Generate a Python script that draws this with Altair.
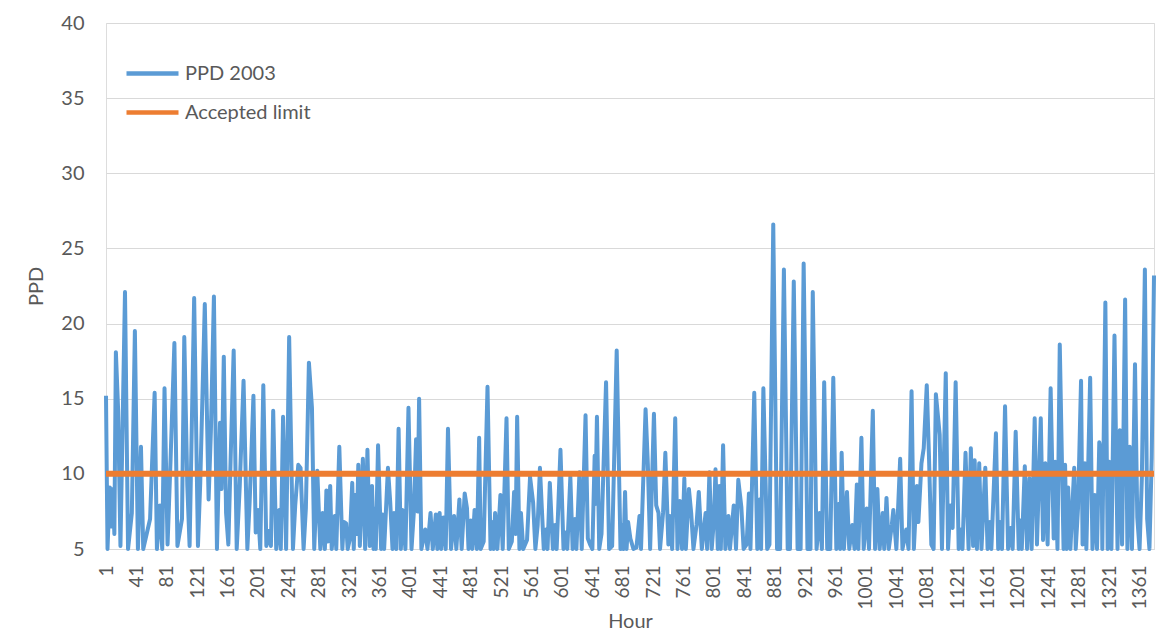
import altair as alt
import pandas as pd

# ---- data (vertices of the PPD trace) ----
hours = [1, 3, 6, 8, 10, 12, 14, 17, 20, 26, 30, 35, 39, 43, 47, 50, 59, 65, 68, 72, 75, 78, 82, 86, 91, 95,
         101, 104, 108, 111, 117, 122, 125, 131, 136, 139, 143, 147, 151, 153, 156, 159, 162, 165, 169, 173,
         177, 182, 187, 190, 195, 198, 201, 204, 208, 212, 215, 218, 221, 225, 229, 231, 234, 238, 242, 247,
         250, 254, 257, 261, 264, 268, 272, 275, 279, 283, 286, 289, 291, 293, 296, 298, 302, 304, 308,
         312, 314, 317, 319, 322, 325, 327, 329, 331, 333, 335, 339, 341, 342, 345, 348, 351, 353, 355, 356,
         359, 363, 365, 367, 372, 375, 378, 380, 383, 386, 389, 391, 395, 399, 403, 406, 409, 411, 413, 416,
         421, 424, 428, 431, 435, 437, 440, 442, 445, 448, 451, 455, 459, 462, 466,
         469, 473, 476, 478, 481, 483, 486, 489, 492, 494, 498, 503, 507, 510, 511, 513, 516, 520, 523, 528,
         531, 535, 538, 540, 542, 545, 547, 550, 555, 559, 563, 566, 569, 572, 577, 580, 582, 585, 589, 592,
         594, 599, 603, 606, 608, 612, 615, 618, 620, 624,
         627, 632, 635, 638, 641, 644, 645, 647, 650, 653, 659, 663, 667, 673, 678, 680, 682, 684, 686, 688,
         691, 695, 699, 703, 705, 711, 714, 717, 722, 725, 728, 730, 734, 737, 741, 743, 746, 750, 753, 756,
         759, 762, 764, 768, 771, 774, 778, 781,
         785, 790, 792, 795, 798, 801, 803, 806, 808, 810, 813, 816, 820, 822, 827, 830, 833, 837, 840, 844,
         847, 849, 854, 858, 861, 863, 866, 871, 874, 879, 884, 888, 893, 898, 901, 906, 911, 915, 919, 924,
         928, 931, 936, 940,
         943, 946, 950, 954, 958, 962, 965, 967, 969, 972, 976, 979, 983, 986, 989, 991, 995, 998, 1002, 1005,
         1010, 1013, 1016, 1019, 1023, 1025, 1028, 1031, 1035, 1037, 1041, 1046, 1049, 1054, 1057, 1061, 1064,
         1068, 1070, 1074, 1077, 1081, 1084, 1087, 1090, 1093, 1098,
         1101, 1106, 1109, 1112, 1115, 1119, 1123, 1126, 1128, 1132, 1136, 1139, 1142, 1144, 1147, 1150, 1153,
         1158, 1161, 1164, 1166, 1172, 1175, 1177, 1180, 1184, 1188, 1191, 1194, 1198, 1202, 1204, 1206, 1210,
         1213, 1216, 1219, 1223, 1226, 1231, 1234, 1237, 1240, 1244, 1248, 1250, 1253, 1256,
         1261, 1263, 1265, 1267, 1270, 1275, 1277, 1280, 1284, 1286, 1289, 1291, 1296, 1299, 1302, 1305, 1308,
         1311, 1312, 1316, 1319, 1321, 1324, 1328, 1332, 1335, 1338, 1342, 1345, 1348, 1351, 1355, 1358, 1361,
         1364, 1368, 1371, 1374, 1377, 1380]

ppd = [15.2, 5.0, 9.1, 6.5, 9.0, 6.0, 18.1, 14.2, 5.2, 22.1, 5.0, 7.4, 19.5, 5.0, 11.8, 5.0, 7.0, 15.4, 5.0,
       7.9, 5.0, 15.7, 5.3, 11.0, 18.7, 5.2, 7.0, 19.1, 9.2, 5.2, 21.7, 5.2, 9.4, 21.3, 8.3, 12.8, 21.8, 5.0,
       13.4, 9.0, 17.8, 7.4, 5.3, 11.0, 18.2, 5.0, 9.2, 16.2, 5.0, 8.1, 15.2, 6.1, 7.6, 5.0, 15.9, 5.2, 6.2,
       5.2, 14.2, 5.0, 7.6, 5.0, 13.8, 5.0, 19.1, 5.0, 7.9, 10.6, 10.4, 5.0, 7.7, 17.4, 14.4, 5.0, 10.2, 5.0,
       7.4, 5.0, 8.9, 5.5, 9.2, 5.0, 7.2, 5.0, 11.8,
       5.0, 6.8, 6.7, 5.0, 5.7, 9.4, 5.0, 8.6, 6.0, 10.6, 5.2, 11.0, 7.0, 5.0, 11.6, 5.2, 9.2, 5.0, 7.7, 5.0,
       11.9, 5.0, 7.3, 5.0, 10.4, 8.1, 5.0, 7.4, 5.0, 13.0, 5.0, 7.6, 5.0, 14.4, 5.0, 7.4, 12.3, 7.5, 15.0,
       5.0, 6.3, 5.0, 7.4, 5.0, 7.3, 5.0, 7.4, 5.0, 7.1, 5.0, 13.0, 5.0, 7.2, 5.0, 8.3,
       5.0, 8.7, 7.7, 5.0, 6.9, 5.0, 7.6, 5.0, 12.4, 5.0, 5.5, 15.8, 5.0, 6.8, 5.0, 7.4, 5.0, 8.6, 5.0, 13.7,
       5.0, 5.5, 8.8, 6.0, 13.8, 5.0, 7.4, 5.0, 5.6, 9.8, 8.1, 5.0, 6.6, 10.4, 5.0, 6.3, 5.0, 9.4, 5.0, 6.6,
       5.0, 11.6, 5.0, 6.1, 5.0, 9.8, 5.0, 7.0, 5.0, 10.1,
       5.0, 13.9, 5.7, 5.3, 5.0, 11.2, 8.0, 13.8, 5.0, 6.0, 16.1, 5.0, 5.2, 18.2, 5.0, 6.6, 5.0, 8.8, 5.0, 6.8,
       5.7, 5.0, 5.1, 7.2, 5.0, 14.3, 10.6, 5.0, 14.0, 7.9, 7.4, 5.0, 7.4, 11.4, 5.3, 7.2, 5.0, 13.7, 5.0, 8.2,
       5.0, 9.7, 5.0, 9.0, 7.4, 5.0, 6.6, 8.8,
       5.0, 7.4, 5.0, 10.1, 5.0, 7.0, 10.3, 5.0, 9.2, 5.0, 11.9, 5.0, 7.2, 5.0, 7.9, 5.0, 9.6, 7.8, 5.0, 5.3,
       8.7, 5.0, 15.4, 5.0, 8.3, 5.0, 15.7, 5.0, 5.3, 26.6, 5.0, 5.0, 23.6, 5.0, 5.0, 22.8, 5.0, 5.0, 24.0, 5.0,
       5.0, 22.1, 5.0, 7.4,
       5.0, 16.1, 5.0, 5.0, 16.4, 5.0, 8.0, 5.0, 11.4, 5.0, 8.8, 5.0, 6.6, 5.0, 9.3, 5.0, 12.4, 5.0, 7.7, 5.0,
       14.2, 5.0, 9.0, 5.0, 7.4, 5.0, 8.4, 5.0, 6.6, 7.6, 5.0, 11.0, 5.0, 6.3, 5.0, 15.5, 5.0,
       9.2, 6.8, 10.7, 11.7, 15.9, 11.0, 5.3, 5.0, 15.3, 12.6,
       5.0, 16.7, 5.0, 7.9, 6.4, 16.1, 5.0, 6.3, 5.0, 11.4, 5.0, 11.7, 5.2, 10.9, 5.0, 10.7, 5.0,
       10.4, 5.0, 6.8, 5.0, 12.7, 5.0, 6.8, 5.0, 14.5, 5.0, 6.4, 5.0, 12.8, 5.0, 6.9, 5.0, 10.5,
       5.0, 9.7, 5.0, 13.7, 5.3, 13.7, 5.6, 10.7, 5.3, 15.7, 5.7, 10.8, 5.0, 18.6,
       5.0, 10.6, 5.0, 9.1, 5.0, 10.4, 5.0, 7.7, 16.2, 5.3, 10.7, 5.0, 16.4, 5.0, 8.6, 5.0, 12.1,
       11.2, 5.0, 21.4, 5.0, 10.8, 5.0, 19.2, 5.0, 12.9, 5.3, 21.6, 5.0, 11.8, 5.0, 17.3, 7.1, 5.0,
       9.7, 23.6, 7.0, 5.0, 11.1, 23.2]

limit_hours = [1, 1380]
limit_values = [10, 10]

series_names = ["PPD 2003", "Accepted limit"]
series_colors = ["#5B9BD5", "#ED7D31"]

x_ticks = [1, 41, 81, 121, 161, 201, 241, 281, 321, 361, 401, 441, 481, 521, 561, 601, 641, 681, 721,
           761, 801, 841, 881, 921, 961, 1001, 1041, 1081, 1121, 1161, 1201, 1241, 1281, 1321, 1361]
y_ticks = [5, 10, 15, 20, 25, 30, 35, 40]

df_ppd = pd.DataFrame({"Hour": hours, "PPD": ppd, "series": series_names[0]})
df_lim = pd.DataFrame({"Hour": limit_hours, "PPD": limit_values, "series": series_names[1]})

FONT = "Lato"
TXT = "#595959"

x_enc = alt.X(
    "Hour:Q",
    title="Hour",
    scale=alt.Scale(domain=[1, 1380], nice=False, zero=False),
    axis=alt.Axis(values=x_ticks, format="d", labelAngle=-90, labelFontSize=19, labelFont=FONT,
                  labelColor=TXT, labelPadding=16, ticks=False, tickSize=0, grid=False, domain=True,
                  domainColor="#D9D9D9", domainWidth=1, labelOverlap=False, labelFlush=False,
                  titleFont=FONT, titleFontSize=20, titleFontWeight="normal", titleColor=TXT,
                  titlePadding=2),
)
y_enc = alt.Y(
    "PPD:Q",
    title="PPD",
    scale=alt.Scale(domain=[5, 40], nice=False, zero=False),
    axis=alt.Axis(values=y_ticks, labelFontSize=20, labelFont=FONT, labelColor=TXT, labelPadding=22,
                  ticks=False, tickSize=0, domain=False, grid=True, gridColor="#D9D9D9", gridWidth=1,
                  titleFont=FONT, titleFontSize=20, titleFontWeight="normal", titleColor=TXT,
                  titlePadding=14),
)
color_enc = alt.Color(
    "series:N",
    scale=alt.Scale(domain=series_names, range=series_colors),
    legend=alt.Legend(title=None, orient="none", legendX=18, legendY=22, symbolType="stroke",
                      symbolSize=2704, symbolStrokeWidth=4.5, labelFont=FONT, labelFontSize=20,
                      labelColor=TXT, labelOffset=4, rowPadding=-1),
)

line = alt.Chart(df_ppd).mark_line(strokeWidth=4, strokeJoin="round").encode(
    x=x_enc, y=y_enc, color=color_enc)
limit = alt.Chart(df_lim).mark_line(strokeWidth=6).encode(x=x_enc, y=y_enc, color=color_enc)

chart = alt.layer(line, limit).properties(
    width=1048, height=526,
    autosize=alt.AutoSizeParams(type="none"),
    padding={"left": 98, "top": 15, "right": 10, "bottom": 88},
).configure_view(stroke=None).configure(background="white")

chart.save("out.html", embed_options={"renderer": "svg", "actions": False})
